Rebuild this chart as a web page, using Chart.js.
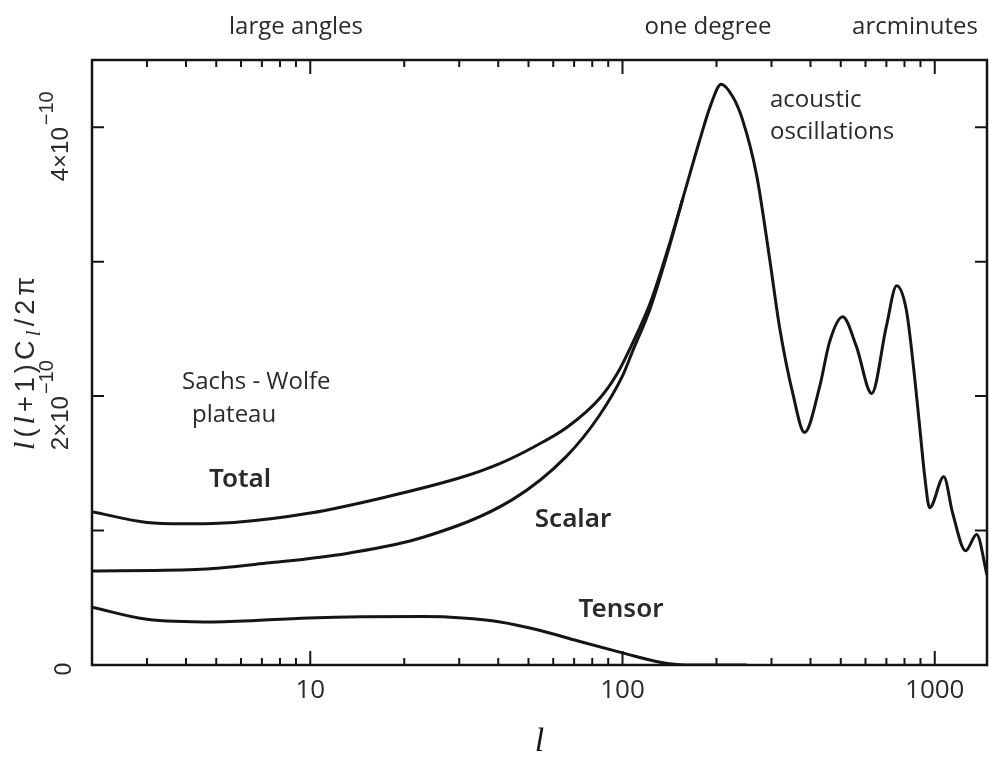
<!DOCTYPE html>
<html>
<head>
<meta charset="utf-8">
<script src="https://cdn.jsdelivr.net/npm/chart.js@4.4.1/dist/chart.umd.min.js"></script>
<style>
  html, body { margin: 0; padding: 0; background: #fff; }
  #caja { width: 989px; height: 759px; }
</style>
</head>
<body>
<div id="caja"><canvas id="grafica" width="989" height="759"></canvas></div>
<script>
// multipolo l y l(l+1)C_l/2pi, en unidades de 1e-10
const ellTotal = [2, 3, 3.9, 5.7, 10, 17.5, 30.9, 40.6, 51.8, 66.6, 85, 96.3, 108, 123, 140, 156, 176, 192, 207, 225, 242, 269, 296, 318, 351, 383, 428, 460, 507, 561, 628, 700, 755, 811, 850, 895, 929, 963, 1069, 1141, 1256, 1362, 1470];
const total    = [1.14, 1.06, 1.05, 1.06, 1.13, 1.25, 1.40, 1.50, 1.62, 1.77, 1.99, 2.17, 2.40, 2.70, 3.10, 3.47, 3.89, 4.17, 4.32, 4.23, 4.06, 3.64, 3.02, 2.52, 2.02, 1.73, 2.07, 2.40, 2.59, 2.37, 2.02, 2.52, 2.82, 2.64, 2.27, 1.77, 1.40, 1.17, 1.40, 1.13, 0.85, 0.97, 0.67];

const ellScalar = [2, 4.3, 7.4, 13.1, 23, 44.4, 66, 84, 100, 108, 123, 140, 156];
const scalar    = [0.70, 0.71, 0.76, 0.83, 0.95, 1.23, 1.55, 1.85, 2.15, 2.34, 2.66, 3.08, 3.47];

const ellTensor = [2, 3, 4.9, 9.9, 23, 30.7, 40.6, 53.8, 71.7, 100, 132, 160, 250];
const tensor    = [0.43, 0.34, 0.32, 0.35, 0.36, 0.35, 0.32, 0.26, 0.18, 0.09, 0.02, 0, 0];

const xTickLabels = [10, 100, 1000];
const yTickMarks = [1, 2, 3, 4];
const yTickLabels = [0, 2, 4];

const tinta = "#151515";
const gris = "#2a2a2a";

function puntos(xs, ys) {
  return xs.map((l, i) => ({ x: l, y: ys[i] }));
}

function serie(nombre, xs, ys) {
  return {
    label: nombre,
    data: puntos(xs, ys),
    borderColor: tinta,
    borderWidth: 3,
    pointRadius: 0,
    fill: false,
    cubicInterpolationMode: "monotone"
  };
}

function texto(ctx, t, x, y, font, align) {
  ctx.font = font;
  ctx.textAlign = align || "center";
  ctx.textBaseline = "middle";
  ctx.fillText(t, x, y);
}

const marco = {
  id: "marco",
  afterDatasetsDraw(chart) {
    const { ctx, chartArea: a, scales: { x, y } } = chart;
    ctx.save();
    ctx.strokeStyle = tinta;
    ctx.lineWidth = 2.5;
    ctx.strokeRect(a.left, a.top, a.right - a.left, a.bottom - a.top);

    ctx.lineWidth = 2;
    ctx.beginPath();
    for (let d = 1; d <= 1000; d *= 10) {
      for (let k = 1; k <= 9; k++) {
        const v = d * k;
        if (v <= x.min || v >= x.max) continue;
        const px = x.getPixelForValue(v);
        const largo = k === 1 ? 14 : 7;
        ctx.moveTo(px, a.bottom); ctx.lineTo(px, a.bottom - largo);
        ctx.moveTo(px, a.top); ctx.lineTo(px, a.top + largo);
      }
    }
    yTickMarks.forEach(v => {
      const py = y.getPixelForValue(v);
      ctx.moveTo(a.left, py); ctx.lineTo(a.left + 12, py);
      ctx.moveTo(a.right, py); ctx.lineTo(a.right - 12, py);
    });
    ctx.stroke();
    ctx.restore();
  },
  afterDraw(chart) {
    const { ctx, scales: { y } } = chart;
    ctx.save();
    ctx.fillStyle = gris;

    // etiquetas del eje y, giradas
    yTickLabels.forEach(v => {
      const py = y.getPixelForValue(v);
      ctx.save();
      ctx.translate(61, py);
      ctx.rotate(-Math.PI / 2);
      if (v === 0) {
        texto(ctx, "0", -4, 4, "23px 'Liberation Sans'");
      } else {
        texto(ctx, v + "×10", 0, 0, "24px 'Liberation Sans'", "right");
        texto(ctx, "−10", 2, -14, "20px 'Liberation Sans'", "left");
      }
      ctx.restore();
    });

    // titulo del eje y: l(l+1)C_l/2pi
    ctx.save();
    ctx.translate(34, 450);
    ctx.rotate(-Math.PI / 2);
    ctx.textAlign = "left";
    ctx.textBaseline = "alphabetic";
    const ital = "italic 30px 'Liberation Serif'";
    const recta = "27px 'Liberation Sans'";
    const trozos = [
      ["l", ital, 0], ["(", recta, 0], ["l", ital, 0], ["+", recta, 0], ["1", recta, 0],
      [")", recta, 0], ["C", recta, 0], ["l", "italic 22px 'Liberation Serif'", 6],
      ["/", recta, 0], ["2", recta, 0], ["π", recta, 0]
    ];
    let suma = 0;
    trozos.forEach(t => { ctx.font = t[1]; suma += ctx.measureText(t[0]).width; });
    const hueco = (173 - suma) / (trozos.length - 1);
    let cx = 0;
    trozos.forEach(t => {
      ctx.font = t[1];
      ctx.fillText(t[0], cx, t[2]);
      cx += ctx.measureText(t[0]).width + hueco;
    });
    ctx.restore();

    // rotulos
    const arriba = "24px 'Open Sans'";
    texto(ctx, "large angles", 296, 27, arriba);
    texto(ctx, "one degree", 708, 27, arriba);
    texto(ctx, "arcminutes", 915, 27, arriba);

    const nota = "24px 'Open Sans'";
    texto(ctx, "acoustic", 770, 100, nota, "left");
    texto(ctx, "oscillations", 770, 132, nota, "left");
    texto(ctx, "Sachs - Wolfe", 182, 382, nota, "left");
    texto(ctx, "plateau", 192, 415, nota, "left");

    const curva = "600 26px 'Noto Sans'";
    texto(ctx, "Total", 240, 480, curva);
    texto(ctx, "Scalar", 573, 520, curva);
    texto(ctx, "Tensor", 621, 610, curva);
    ctx.restore();
  }
};

const ctx = document.getElementById("grafica").getContext("2d");
window.chart = new Chart(ctx, {
  type: "line",
  data: {
    datasets: [
      serie("Total", ellTotal, total),
      serie("Scalar", ellScalar, scalar),
      serie("Tensor", ellTensor, tensor)
    ]
  },
  options: {
    responsive: false,
    animation: false,
    devicePixelRatio: 1,
    layout: { padding: { top: 60, right: 2, left: 0, bottom: 0 } },
    plugins: { legend: { display: false }, tooltip: { enabled: false } },
    scales: {
      x: {
        type: "logarithmic",
        min: 2,
        max: 1470,
        grid: { display: false, drawTicks: false },
        border: { display: false },
        afterBuildTicks: s => { s.ticks = xTickLabels.map(v => ({ value: v })); },
        afterFit: s => { s.height = 94; },
        ticks: {
          autoSkip: false,
          maxRotation: 0,
          padding: 10,
          color: gris,
          font: { family: "'Open Sans'", size: 26 },
          callback: v => String(v)
        },
        title: {
          display: true,
          text: "l",
          color: tinta,
          font: { family: "'Liberation Serif'", style: "italic", size: 34, lineHeight: 1 },
          padding: 0
        }
      },
      y: {
        min: 0,
        max: 4.5,
        grid: { display: false, drawTicks: false },
        border: { display: false },
        ticks: { display: false },
        afterFit: s => { s.width = 92; }
      }
    }
  },
  plugins: [marco]
});
</script>
</body>
</html>
